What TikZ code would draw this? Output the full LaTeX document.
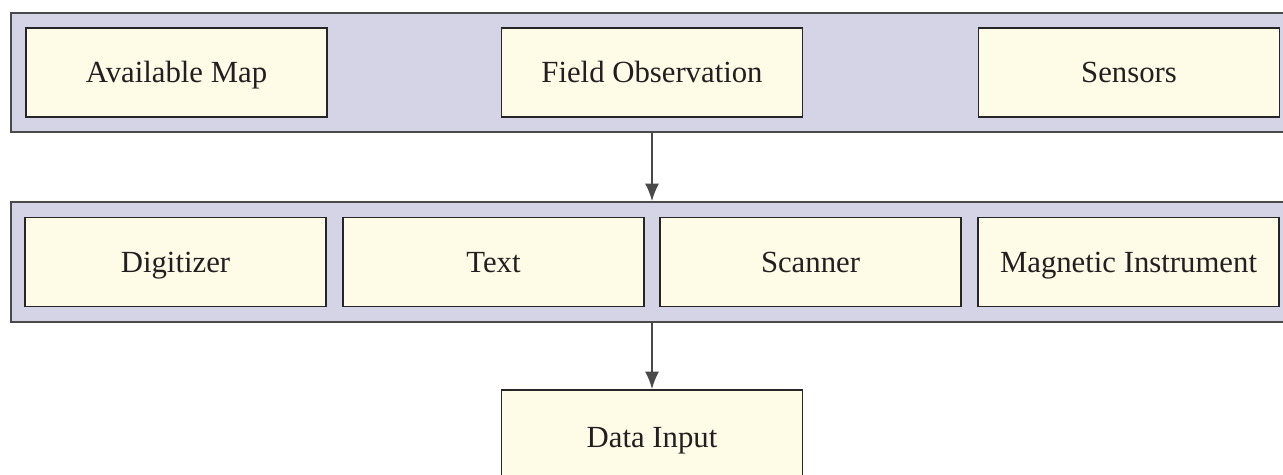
\documentclass[tikz,border=0pt]{standalone}
\usepackage{fontspec}
\setmainfont{Liberation Serif}
\usepackage{tikz}
\definecolor{band}{HTML}{D5D4E7}
\definecolor{cream}{HTML}{FEFBE7}
\definecolor{edge}{HTML}{4A4A4A}
\definecolor{ink}{HTML}{231F20}
\usetikzlibrary{arrows.meta}
\tikzstyle{layer}=[rectangle, draw=edge, fill=band, line width=1pt, inner sep=0pt]
\tikzstyle{unit}=[rectangle, draw=black!85, fill=cream, line width=1pt, minimum width=6.02cm, minimum height=1.78cm, inner sep=0pt, text=ink, text height=15pt, text depth=3.1pt, font=\fontsize{17.5}{20}\selectfont]
\tikzstyle{flow}=[draw=edge, line width=1pt, -{Latex[length=10pt,width=8pt]}]

\begin{document}
\begin{tikzpicture}[x=0.02cm, y=-0.02cm]
	\clip (0,0) rectangle (1283,475);
	\node[layer, minimum width=25.8cm, minimum height=2.38cm] (top) at (656,72.5){};
	\node[layer, minimum width=25.8cm, minimum height=2.4cm] (mid) at (656,262){};
	\node[unit] (map) at (176.5,72.5){Available Map};
	\node[unit] (obs) at (652,72.5){Field Observation};
	\node[unit] (sens) at (1129,72.5){Sensors};
	\node[unit] (dig) at (175.5,262){Digitizer};
	\node[unit] (txt) at (493.5,262){Text};
	\node[unit] (scan) at (810.5,262){Scanner};
	\node[unit] (mag) at (1128.5,262){Magnetic Instrument};
	\node[unit, minimum height=1.88cm] (input) at (652,437){Data Input};
	\path[flow] (top.south -| obs) -- (mid.north -| obs);
	\path[flow] (mid.south -| input) -- (input);
\end{tikzpicture}
\end{document}
